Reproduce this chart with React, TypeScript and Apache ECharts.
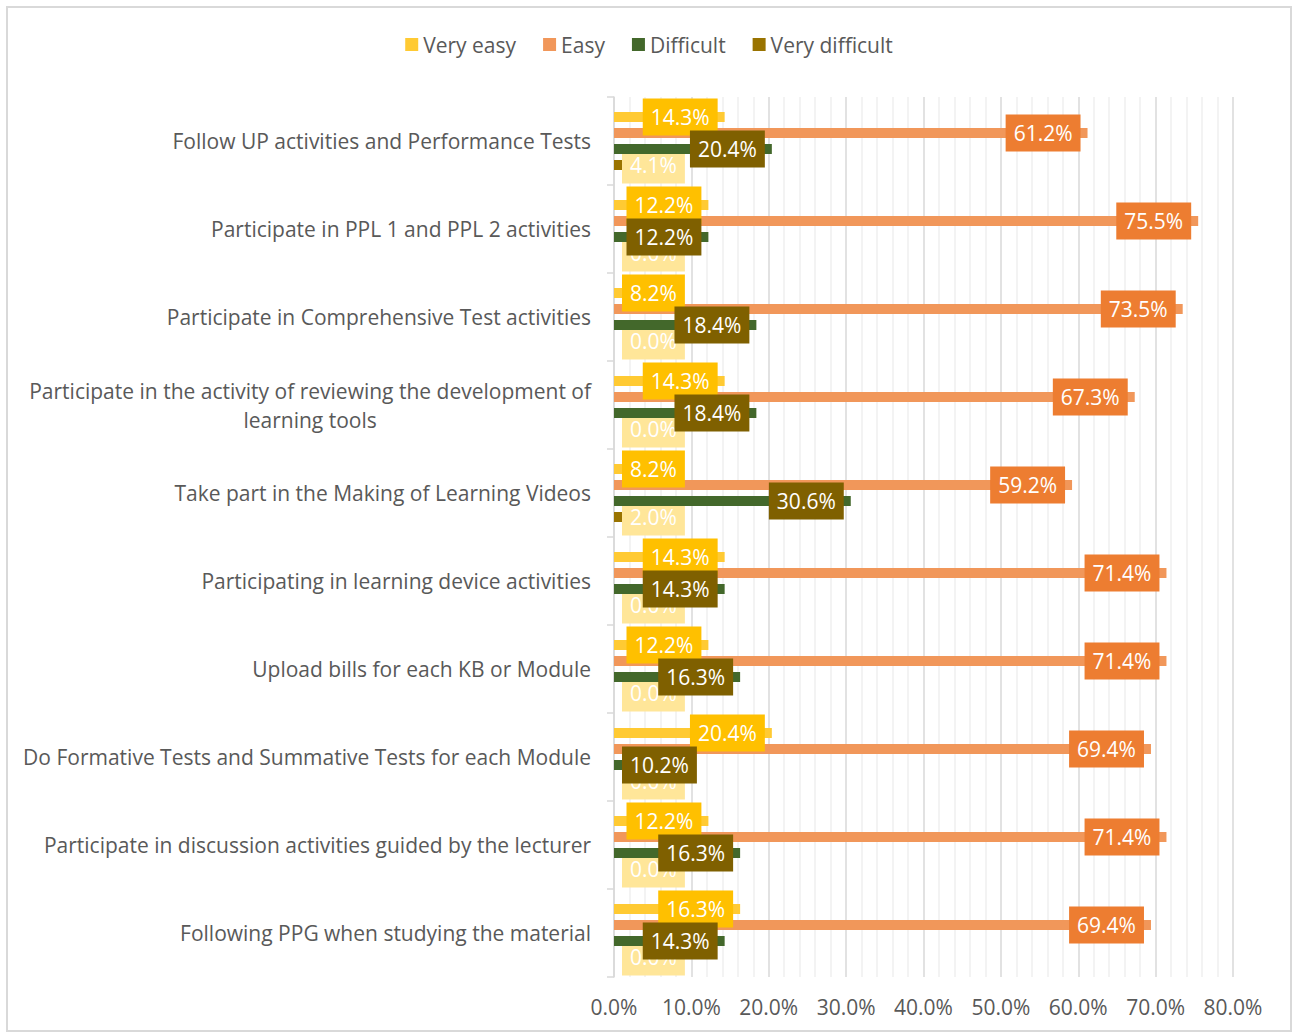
import React, { useEffect, useRef } from "react";
import * as echarts from "echarts";

const categories = [
  "Follow UP activities and Performance Tests",
  "Participate in PPL 1 and PPL 2 activities",
  "Participate in Comprehensive Test activities",
  "Participate in the activity of reviewing the development of learning tools",
  "Take part in the Making of Learning Videos",
  "Participating in learning device activities",
  "Upload bills for each KB or Module",
  "Do Formative Tests and Summative Tests for each Module",
  "Participate in discussion activities guided by the lecturer",
  "Following PPG when studying the material",
];

const veryEasy = [14.3, 12.2, 8.2, 14.3, 8.2, 14.3, 12.2, 20.4, 12.2, 16.3];
const easy = [61.2, 75.5, 73.5, 67.3, 59.2, 71.4, 71.4, 69.4, 71.4, 69.4];
const difficult = [20.4, 12.2, 18.4, 18.4, 30.6, 14.3, 16.3, 10.2, 16.3, 14.3];
const veryDifficult = [4.1, 0.0, 0.0, 0.0, 2.0, 0.0, 0.0, 0.0, 0.0, 0.0];

const xTicks = [0, 10, 20, 30, 40, 50, 60, 70, 80];

const FONT = "'Open Sans', 'Noto Sans', sans-serif";

function wrapLabel(s: string, max: number): string[] {
  const words = s.split(" ");
  const lines: string[] = [];
  let cur = "";
  for (const w of words) {
    const next = cur ? cur + " " + w : w;
    if (next.length > max && cur) {
      lines.push(cur);
      cur = w;
    } else cur = next;
  }
  if (cur) lines.push(cur);
  return lines;
}

function makeSeries(name: string, values: number[], barColor: string, labelBg: string, z: number) {
  return {
    name,
    type: "bar",
    z,
    barWidth: 10,
    barGap: "60%",
    itemStyle: { color: barColor },
    data: values.map((v) => ({
      value: v,
      label: {
        position: v < 12 ? "insideLeft" : "insideRight",
        distance: v < 12 ? 8 : 7,
      },
    })),
    label: {
      show: true,
      formatter: (p: any) => Number(p.value).toFixed(1) + "%",
      color: "#ffffff",
      fontFamily: FONT,
      fontSize: 21,
      lineHeight: 21,
      backgroundColor: labelBg,
      padding: [8, 8, 8, 8],
    },
  };
}

export default function App() {
  const ref = useRef<HTMLDivElement>(null);
  useEffect(() => {
    if (!ref.current) return;
    const chart = echarts.init(ref.current, undefined, { renderer: "svg" });
    chart.setOption({
      animation: false,
      backgroundColor: "#ffffff",
      legend: {
        top: 21,
        left: "center",
        icon: "rect",
        itemWidth: 13,
        itemHeight: 13,
        itemGap: 27,
        textStyle: { color: "#595959", fontSize: 21, fontFamily: FONT },
        data: ["Very easy", "Easy", "Difficult", "Very difficult"],
      },
      grid: { left: 606, right: 57, top: 89, bottom: 53, containLabel: false },
      xAxis: {
        type: "value",
        min: xTicks[0],
        max: xTicks[xTicks.length - 1],
        interval: 10,
        axisLine: { show: false },
        axisTick: { show: false },
        axisLabel: {
          color: "#595959",
          fontSize: 21,
          fontFamily: FONT,
          margin: 19,
          formatter: (v: number) => v.toFixed(1) + "%",
        },
        splitLine: { show: true, lineStyle: { color: "#d9d9d9", width: 1.5 } },
        minorTick: { show: false, splitNumber: 5 },
        minorSplitLine: { show: true, lineStyle: { color: "#efefef", width: 1.5 } },
      },
      yAxis: {
        type: "category",
        inverse: true,
        data: categories,
        axisLine: { show: true, lineStyle: { color: "#d9d9d9", width: 1.5 } },
        axisTick: { show: true, length: 7, lineStyle: { color: "#d9d9d9", width: 1.5 } },
        axisLabel: {
          color: "#595959",
          fontSize: 21,
          fontFamily: FONT,
          margin: 23,
          lineHeight: 29,
          formatter: (v: string) =>
            wrapLabel(v, 62)
              .map((l) => "{c|" + l + "}")
              .join("\n"),
          rich: {
            c: {
              align: "center",
              color: "#595959",
              fontSize: 21,
              fontFamily: FONT,
              lineHeight: 29,
            },
          },
        },
      },
      series: [
        makeSeries("Very easy", veryEasy, "#FFCA33", "#FFC000", 4),
        makeSeries("Easy", easy, "#F1975A", "#ED7D31", 3),
        makeSeries("Difficult", difficult, "#43682B", "#7F6000", 5),
        makeSeries("Very difficult", veryDifficult, "#997300", "#FFE699", 2),
      ],
    });
    return () => chart.dispose();
  }, []);
  return (
    <div
      style={{
        position: "absolute",
        left: 6,
        top: 6,
        width: 1286,
        height: 1026,
        boxSizing: "border-box",
        border: "2px solid #d9d9d9",
        background: "#fff",
      }}
    >
      <div ref={ref} style={{ width: 1282, height: 1022 }} />
    </div>
  );
}
